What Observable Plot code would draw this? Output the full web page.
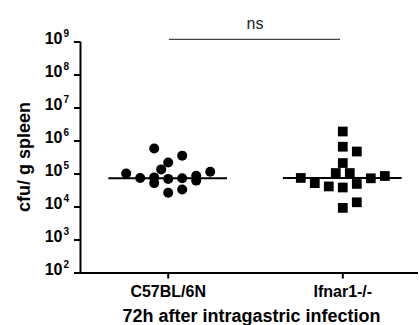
<!DOCTYPE html>
<html>
<head>
<meta charset="utf-8">
<script src="https://cdn.jsdelivr.net/npm/d3@7"></script>
<script src="https://cdn.jsdelivr.net/npm/@observablehq/plot@0.6"></script>
<style>
  html, body { margin: 0; padding: 0; background: #fff; }
  #chart { width: 419px; height: 325px; }
</style>
</head>
<body>
<div id="chart"></div>
<script>
// ---- data ----
const categories = ["C57BL/6N", "Ifnar1-/-"];
// C57BL/6N (circles): cfu per g spleen, and horizontal jitter slot
const wtValues = [1.04e5, 7.6e4, 7.9e4, 5.3e4, 5.9e5, 1.38e5, 2.24e5, 7.1e4, 2.7e4, 3.6e5, 7.4e4, 3.4e4, 8.9e4, 6.3e4, 1.17e5];
const wtSlots  = [-3, -2, -1, -1, -1, -0.5, 0, 0, 0, 1, 1, 1, 2, 2, 3];
// Ifnar1-/- (squares)
const koValues = [7.6e4, 5.3e4, 4.2e4, 1.07e5, 1.94e6, 6.7e5, 2.15e5, 3.9e4, 9.4e3, 1.07e5, 4.8e5, 5.0e4, 1.39e4, 7.4e4, 8.7e4];
const koSlots  = [-3, -2, -1, -0.5, 0, 0, 0, 0, 0, 0.5, 1, 1, 1, 2, 3];
// medians (horizontal lines)
const medians = [7.4e4, 7.5e4];
const yTicks = [1e2, 1e3, 1e4, 1e5, 1e6, 1e7, 1e8, 1e9];
const yLabel = "cfu/ g spleen";
const xLabel = "72h after intragastric infection";
const sigLabel = "ns";
const sigLevel = 1.2e9;

// ---- build tables ----
const slotWidth = 0.0802;
const wtData = wtValues.map((v, i) => ({x: 1 + wtSlots[i] * slotWidth, y: v}));
const koData = koValues.map((v, i) => ({x: 2 + koSlots[i] * slotWidth, y: v}));
const medData = medians.map((m, i) => ({pos: i + 1, m}));
const xDomain = [0.4977, 2.4336];
const yDomain = [1e2, 1e9];

const font = "'Liberation Sans', Arial, sans-serif";

const chart = Plot.plot({
  width: 419,
  height: 325,
  marginLeft: 80,
  marginRight: 1,
  marginTop: 41.5,
  marginBottom: 52.5,
  style: {fontFamily: font, overflow: "visible", background: "#fff", color: "#000"},
  x: {type: "linear", domain: xDomain, axis: null},
  y: {type: "log", domain: yDomain, axis: null},
  marks: [
    // axis lines
    Plot.ruleX([xDomain[0]], {stroke: "#000", strokeWidth: 2}),
    Plot.ruleY([yDomain[0]], {stroke: "#000", strokeWidth: 2}),
    // y ticks
    Plot.axisY({ticks: yTicks, tickSize: 6, tickFormat: () => "", label: null, strokeWidth: 2, stroke: "#000"}),
    Plot.text(yTicks, {y: d => d, x: xDomain[0], text: () => "10", textAnchor: "end",
      dx: -18, dy: -3, fontSize: 16, fontWeight: "bold", fill: "#000"}),
    Plot.text(yTicks, {y: d => d, x: xDomain[0], text: d => String(Math.round(Math.log10(d))),
      textAnchor: "start", dx: -17, dy: -8, fontSize: 10, fontWeight: "bold", fill: "#000"}),
    // x ticks
    Plot.axisX({ticks: [1, 2], tickSize: 6, tickPadding: 7, tickFormat: d => categories[d - 1], label: null,
      fontSize: 16, fontWeight: "bold", strokeWidth: 2, stroke: "#000", fill: "#000"}),
    // axis labels
    Plot.text([xLabel], {x: (xDomain[0] + xDomain[1]) / 2, y: yDomain[0], text: d => d, dx: 2, dy: 43,
      lineAnchor: "middle", fontSize: 18, fontWeight: "bold", fill: "#000"}),
    Plot.text([yLabel], {frameAnchor: "middle", text: d => d, rotate: -90, dx: -225, dy: 0,
      lineAnchor: "middle", textAnchor: "middle", fontSize: 18, fontWeight: "bold", fill: "#000",
      className: "ylab"}),
    // medians
    Plot.ruleY(medData, {y: "m", x1: d => d.pos - 0.34, x2: d => d.pos + 0.34, stroke: "#000", strokeWidth: 2}),
    // points
    Plot.dot(wtData, {x: "x", y: "y", r: 5, fill: "#000", symbol: "circle"}),
    Plot.dot(koData, {x: "x", y: "y", r: 5.5, fill: "#000", symbol: "square"}),
    // significance bracket
    Plot.ruleY([sigLevel], {x1: 1.007, x2: 1.987, stroke: "#444", strokeWidth: 1.2}),
    Plot.text([sigLabel], {x: 1.497, y: sigLevel, text: d => d, dy: -16, lineAnchor: "middle",
      fontSize: 16, fill: "#222"})
  ]
});
document.getElementById("chart").appendChild(chart);

// screen-space check: centre the rotated y label on the middle of the y axis
const lab = chart.querySelector(".ylab text");
if (lab) {
  const r = lab.getBoundingClientRect();
  const s = chart.getBoundingClientRect();
  const cx = r.left + r.width / 2 - s.left;
  const cy = r.top + r.height / 2 - s.top;
  const wantX = 24, wantY = (41.5 + (325 - 52.5)) / 2;
  const t = lab.getAttribute("transform") || "";
  lab.setAttribute("transform", `translate(${wantX - cx},${wantY - cy}) ${t}`);
}
</script>
</body>
</html>
